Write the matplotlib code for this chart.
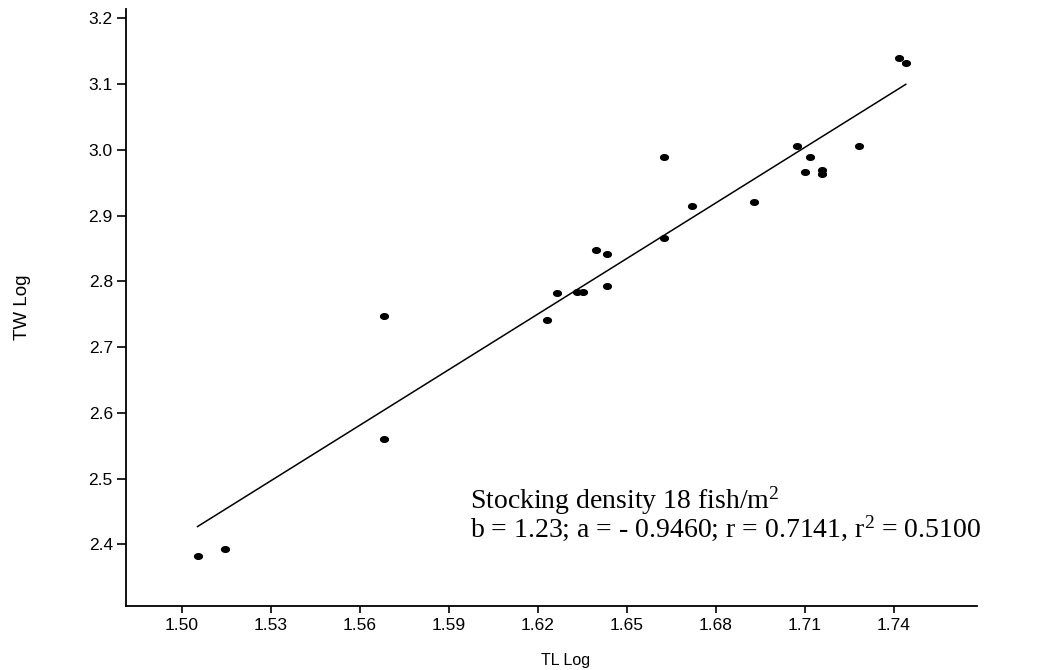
import numpy as np
import matplotlib
matplotlib.use('Agg')
import matplotlib.pyplot as plt

# TL Log / TW Log values
tl_log = [1.5053, 1.5147, 1.5683, 1.5683, 1.6232, 1.6264, 1.6334, 1.6354,
          1.6396, 1.6435, 1.6435, 1.6627, 1.6627, 1.6720, 1.6928, 1.7074,
          1.7118, 1.7100, 1.7158, 1.7158, 1.7283, 1.7417, 1.7441]
tw_log = [2.3817, 2.3932, 2.7477, 2.5606, 2.7411, 2.7817, 2.7837, 2.7837,
          2.8476, 2.8411, 2.7929, 2.9886, 2.8659, 2.9150, 2.9211, 3.0058,
          2.9890, 2.9658, 2.9697, 2.9637, 3.0058, 3.1392, 3.1316]

# fitted line as drawn on the chart
line_intercept = -1.8135
line_slope = 2.817

x_ticks = [1.50, 1.53, 1.56, 1.59, 1.62, 1.65, 1.68, 1.71, 1.74]
y_ticks = [2.4, 2.5, 2.6, 2.7, 2.8, 2.9, 3.0, 3.1, 3.2]

note = ('Stocking density 18 fish/m$^{2}$\n'
        'b = 1.23; a = - 0.9460; r = 0.7141, r$^{2}$ = 0.5100')

plt.rcParams['font.family'] = ['Liberation Sans', 'DejaVu Sans']
plt.rcParams['mathtext.fontset'] = 'custom'
plt.rcParams['mathtext.rm'] = 'Liberation Serif'
plt.rcParams['mathtext.it'] = 'Liberation Serif'


def make_plot():
    fig = plt.figure(figsize=(10.6, 6.7), dpi=100)
    ax = fig.add_axes([0.1189, 0.0960, 0.8028, 0.8901])

    t = np.linspace(0, 2 * np.pi, 40)
    ellipse = np.column_stack([1.38 * np.cos(t), np.sin(t)])
    ax.plot(tl_log, tw_log, linestyle='none', marker=ellipse,
            markersize=5.6, color='black')

    fit_x = np.array([min(tl_log), max(tl_log)])
    ax.plot(fit_x, line_intercept + line_slope * fit_x, color='black', lw=1.1)

    ax.set_xlim(1.4812, 1.7681)
    ax.set_ylim(2.3066, 3.2137)
    ax.set_xticks(x_ticks)
    ax.set_xticklabels(['%.2f' % v for v in x_ticks])
    ax.set_yticks(y_ticks)
    ax.set_yticklabels(['%.1f' % v for v in y_ticks])

    for side in ['top', 'right']:
        ax.spines[side].set_visible(False)
    for side in ['left', 'bottom']:
        ax.spines[side].set_linewidth(1.3)

    ax.tick_params(axis='x', length=5, width=1.2, pad=4, labelsize=12.5)
    ax.tick_params(axis='y', length=6.5, width=1.2, pad=3, labelsize=12.5)

    ax.set_xlabel('TL Log', fontsize=11.5)
    ax.set_ylabel('TW Log', fontsize=13.5)
    ax.xaxis.set_label_coords(0.517, -0.079)
    ax.yaxis.set_label_coords(-0.112, 0.5)

    # baseline of the last line sits at this position
    ax.text(0.4042, 0.1157, note, transform=ax.transAxes, fontsize=20,
            family='Liberation Serif', va='baseline', ha='left',
            linespacing=0.87)

    fig.savefig('out.png', dpi=100)
    plt.close(fig)


if __name__ == '__main__':
    make_plot()
